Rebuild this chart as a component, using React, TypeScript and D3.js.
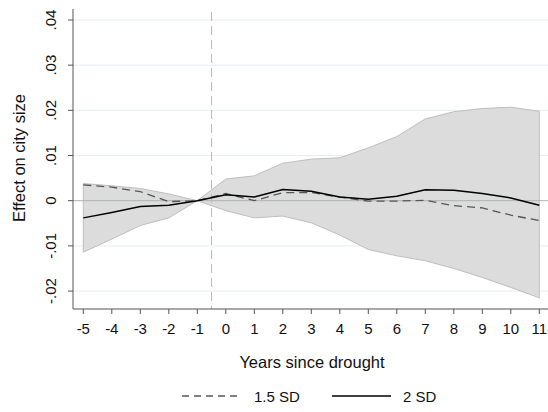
import React from "react";
import * as d3 from "d3";

const years = [-5, -4, -3, -2, -1, 0, 1, 2, 3, 4, 5, 6, 7, 8, 9, 10, 11];
const upperCI = [0.0038, 0.0033, 0.0027, 0.0015, 0, 0.0048, 0.0055, 0.0083, 0.0092, 0.0095, 0.0117, 0.0142, 0.0181, 0.0197, 0.0204, 0.0207, 0.0198];
const lowerCI = [-0.0114, -0.0085, -0.0055, -0.0038, 0, -0.0022, -0.0038, -0.0034, -0.0049, -0.0076, -0.0108, -0.0122, -0.0133, -0.015, -0.017, -0.0192, -0.0215];
const sd2 = [-0.0038, -0.0026, -0.0013, -0.001, 0, 0.0013, 0.0008, 0.0025, 0.0021, 0.0008, 0.0003, 0.001, 0.0024, 0.0023, 0.0016, 0.0006, -0.001];
const sd15 = [0.0035, 0.003, 0.002, -0.0002, 0, 0.0016, 0.0, 0.0018, 0.0018, 0.0008, -0.0001, -0.0001, 0.0001, -0.0011, -0.0016, -0.0032, -0.0044];
const yTicks = [0.04, 0.03, 0.02, 0.01, 0, -0.01, -0.02];
const yTickLabels = [".04", ".03", ".02", ".01", "0", "-.01", "-.02"];
const legendLabels = ["1.5 SD", "2 SD"];

const FONT = "'Liberation Sans', Arial, Helvetica, sans-serif";

export default function App() {
  const W = 548, H = 412;
  const left = 73, right = 548, top = 9, bottom = 309;
  const x = d3.scaleLinear().domain([-5, 11]).range([83.3, 539.3]);
  const y = d3.scaleLinear().domain([0, 0.04]).range([200.7, 20]);

  const area = d3.area<number>()
    .x((_, i) => x(years[i]))
    .y0((_, i) => y(lowerCI[i]))
    .y1((_, i) => y(upperCI[i]));
  const line = (vals: number[]) =>
    d3.line<number>().x((_, i) => x(years[i])).y((v) => y(v))(vals) || "";

  const axisColor = "#555";
  return (
    <svg width={W} height={H} style={{ position: "absolute", left: 0, top: 0, background: "#fff" }} fontFamily={FONT}>
      {yTicks.filter((t) => t !== 0).map((t) => (
        <line key={t} x1={left} x2={right} y1={y(t)} y2={y(t)} stroke="#e6eef0" strokeWidth={1} />
      ))}
      <path d={area(upperCI) || ""} fill="#dcdcdc" stroke="#bebebe" strokeWidth={1} />
      <line x1={left} x2={right} y1={y(0)} y2={y(0)} stroke="#aeb2b2" strokeWidth={1} />
      <line x1={x(-0.5)} x2={x(-0.5)} y1={top + 3} y2={bottom} stroke="#b8b8b8" strokeWidth={1} strokeDasharray="9,5" />
      <path d={line(sd15)} fill="none" stroke="#555" strokeWidth={1.3} strokeDasharray="8,5" />
      <path d={line(sd2)} fill="none" stroke="#000" strokeWidth={1.5} />
      <line x1={left} x2={left} y1={top} y2={bottom} stroke={axisColor} strokeWidth={1} />
      <line x1={left} x2={right} y1={bottom} y2={bottom} stroke={axisColor} strokeWidth={1} />
      {yTicks.map((t, i) => (
        <g key={t}>
          <line x1={left - 5} x2={left} y1={y(t)} y2={y(t)} stroke={axisColor} />
          <text transform={`translate(56,${y(t)}) rotate(-90)`} textAnchor="middle" fontSize={15} fill="#111">
            {yTickLabels[i]}
          </text>
        </g>
      ))}
      {years.map((yr) => (
        <g key={yr}>
          <line x1={x(yr)} x2={x(yr)} y1={bottom} y2={bottom + 5} stroke={axisColor} />
          <text x={x(yr)} y={333.5} textAnchor="middle" fontSize={15} fill="#111">{yr}</text>
        </g>
      ))}
      <text transform={`translate(25,158) rotate(-90)`} textAnchor="middle" fontSize={16.5} fill="#111">
        Effect on city size
      </text>
      <text x={312} y={368} textAnchor="middle" fontSize={16.5} fill="#111">Years since drought</text>
      <line x1={182} x2={240} y1={396} y2={396} stroke="#555" strokeWidth={1.3} strokeDasharray="7,5" />
      <text x={254} y={401.5} fontSize={15} fill="#111">{legendLabels[0]}</text>
      <line x1={332} x2={391} y1={396} y2={396} stroke="#000" strokeWidth={1.5} />
      <text x={403} y={401.5} fontSize={15} fill="#111">{legendLabels[1]}</text>
    </svg>
  );
}
